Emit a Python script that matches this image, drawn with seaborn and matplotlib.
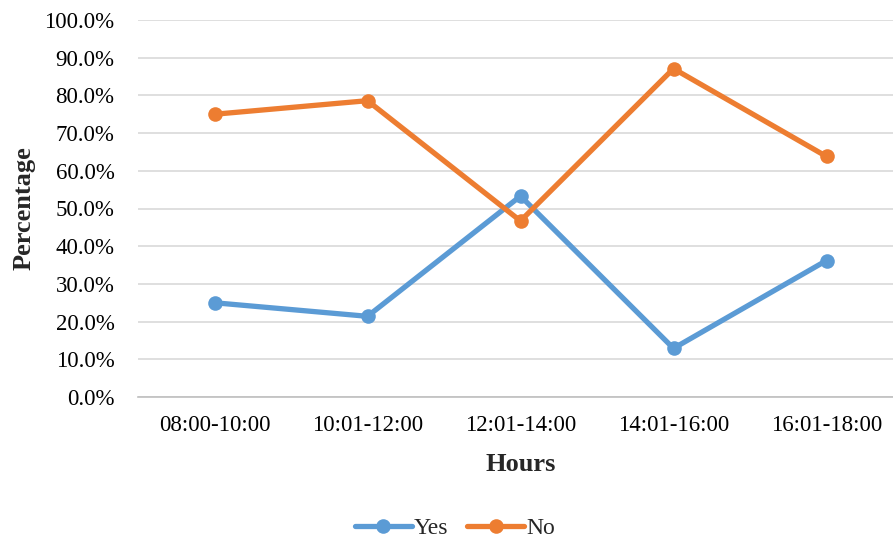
import matplotlib
matplotlib.use("Agg")
import matplotlib.pyplot as plt
from matplotlib.ticker import FixedLocator, PercentFormatter
import numpy as np
import pandas as pd
import seaborn as sns

hours = ["08:00-10:00", "10:01-12:00", "12:01-14:00", "14:01-16:00", "16:01-18:00"]
yes_pct = [25.0, 21.4, 53.3, 12.9, 36.2]
no_pct = [75.0, 78.6, 46.7, 87.1, 63.8]

sns.set_theme(style="white")
plt.rcParams["font.family"] = ["Liberation Serif", "DejaVu Serif"]

df = pd.DataFrame({
    "pos": list(range(len(hours))) * 2,
    "Hours": hours * 2,
    "value": yes_pct + no_pct,
    "series": ["Yes"] * len(hours) + ["No"] * len(hours),
})

fig = plt.figure(figsize=(8.93, 5.40), dpi=100)
ax = fig.add_axes([138 / 893, 1 - 397 / 540, (903 - 138) / 893, (397 - 20) / 540])

palette = {"Yes": "#5B9BD5", "No": "#ED7D31"}
sns.lineplot(data=df, x="pos", y="value", hue="series", palette=palette,
             marker="o", markersize=10.5, markeredgewidth=0, linewidth=3.8,
             ax=ax, legend=False, zorder=3)

ax.set_xlim(-0.5, len(hours) - 0.5)
ax.set_ylim(0, 100)
ax.set_yticks(np.arange(0, 101, 10))
ax.yaxis.set_major_formatter(PercentFormatter(decimals=1))
ax.set_xticks(range(len(hours)))
ax.set_xticklabels(hours)
ax.xaxis.set_minor_locator(FixedLocator(np.arange(-0.5, len(hours), 1.0)))

ax.grid(axis="y", color="#d9d9d9", linewidth=1.2, zorder=0)
ax.grid(axis="x", visible=False)
for s in ["left", "right", "top"]:
    ax.spines[s].set_visible(False)
ax.spines["bottom"].set_color("#bfbfbf")
ax.spines["bottom"].set_linewidth(1.2)

ax.tick_params(axis="y", length=0, pad=17, labelsize=16.5, labelcolor="black")
ax.tick_params(axis="x", which="major", length=0, pad=13, labelsize=16.5, labelcolor="black")
ax.tick_params(axis="x", which="minor", length=6, width=1.2, color="#bfbfbf", direction="out")

ax.set_xlabel("Hours", fontsize=19, fontweight="bold", labelpad=12)
ax.set_ylabel("Percentage", fontsize=19, fontweight="bold", labelpad=6)

handles = [plt.Line2D([], [], color=palette[k], marker="o", markersize=10.5,
                      markeredgewidth=0, linewidth=3.8) for k in ["Yes", "No"]]
fig.legend(handles, ["Yes", "No"], loc="center", bbox_to_anchor=(455 / 893, 1 - 528 / 540),
           ncol=2, frameon=False, fontsize=17, handlelength=2.4, handletextpad=0.1,
           columnspacing=0.8)

fig.savefig("out.png", dpi=100)
